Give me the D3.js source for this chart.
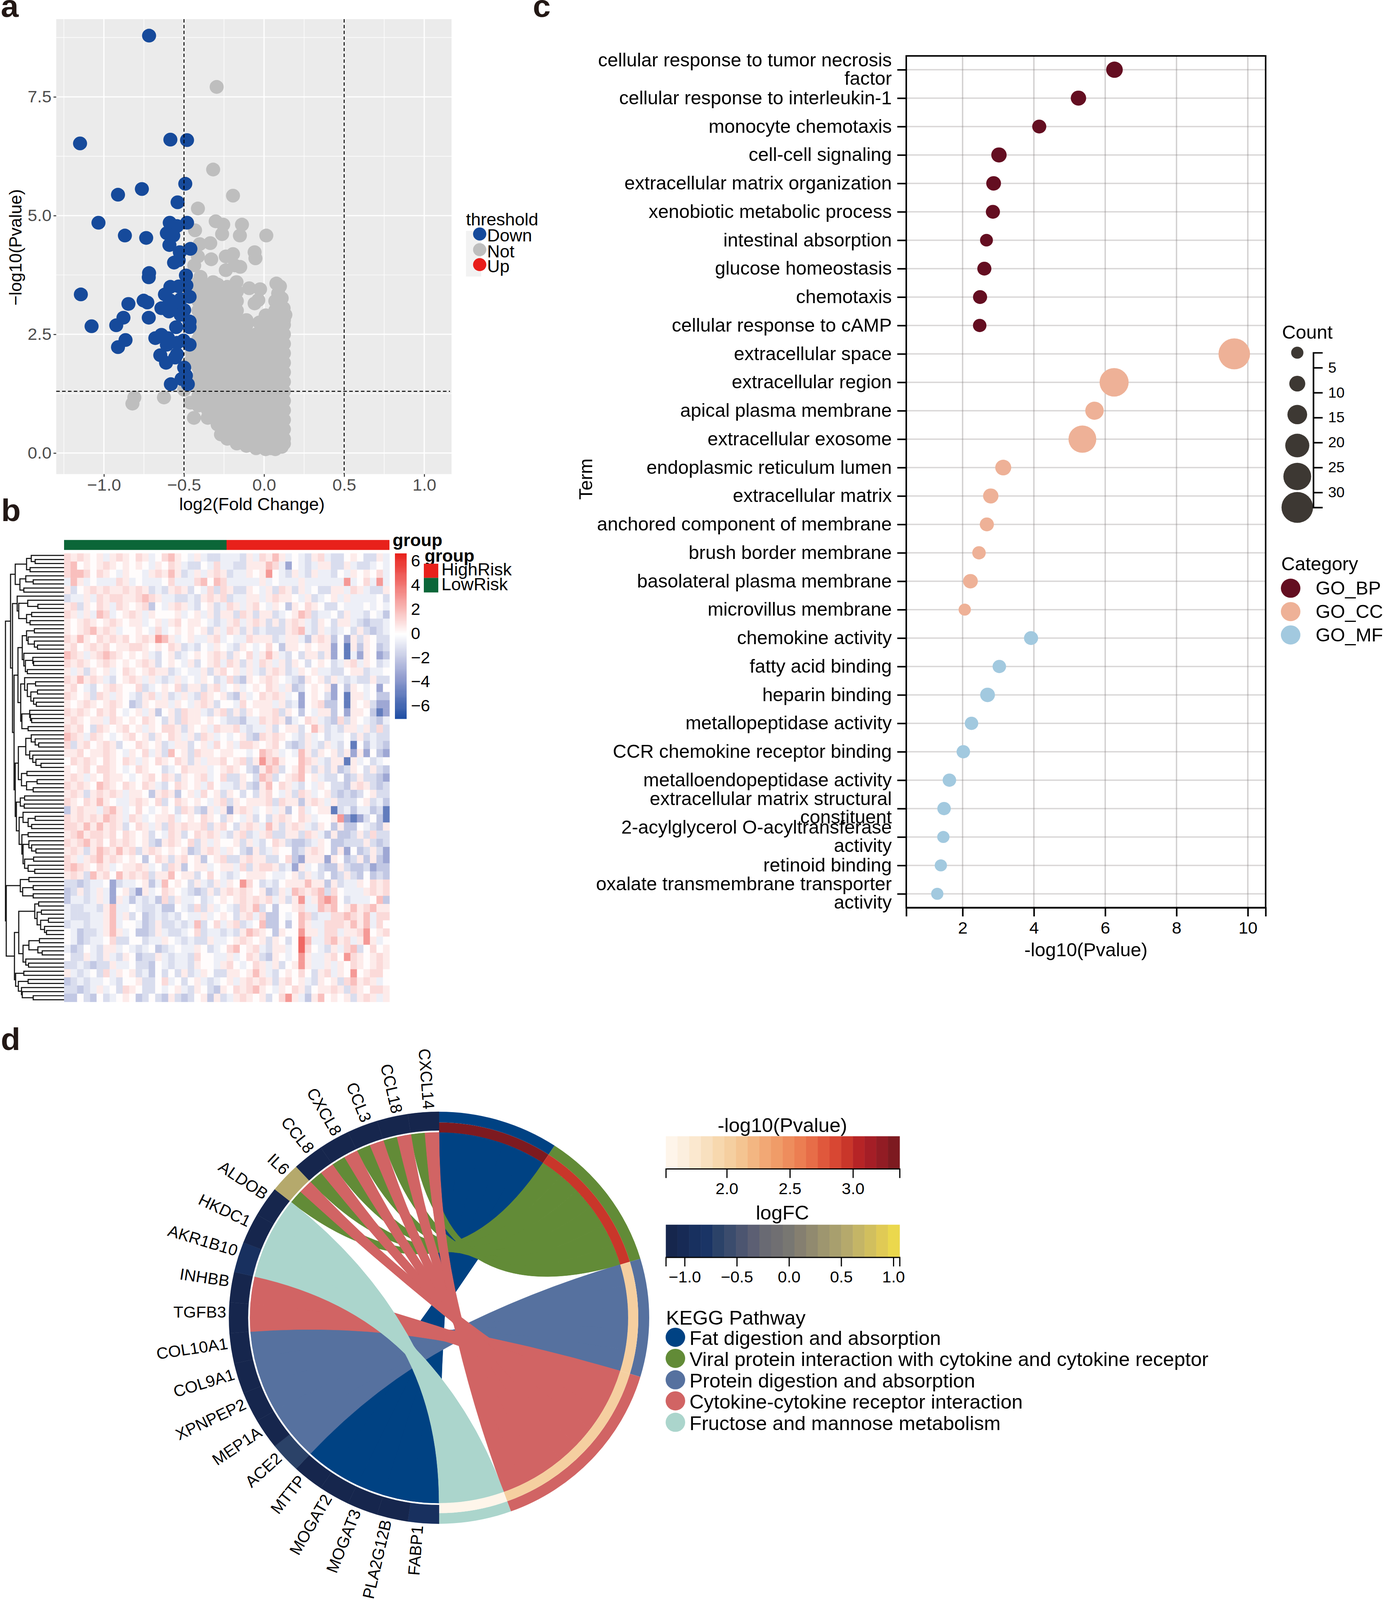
<!DOCTYPE html>
<html>
<head>
<meta charset="utf-8">
<script src="https://cdn.jsdelivr.net/npm/d3@7"></script>
<style>
  html, body { margin: 0; padding: 0; background: #fff; overflow: hidden; }
  svg { display: block; width: 100vw; height: 100vh; }
  text { font-family: "Liberation Sans", Arial, sans-serif; fill: #000; }
</style>
</head>
<body>
<div id="figure"></div>
<script>
/* DATA - panel a, volcano plot */
const downPoints = [[-0.718,8.79],[-1.149,6.52],[-0.585,6.6],[-0.481,6.59],[-0.492,5.67],[-0.763,5.56],[-0.912,5.44],[-0.54,5.28],[-1.034,4.85],[-0.589,4.85],[-0.481,4.85],[-0.544,4.78],[-0.869,4.58],[-0.736,4.53],[-0.607,4.63],[-0.567,4.58],[-0.591,4.38],[-0.526,4.23],[-0.46,4.3],[-0.562,4.01],[-0.533,4.06],[-0.488,3.74],[-0.718,3.79],[-0.72,3.7],[-0.485,3.53],[-0.585,3.5],[-0.533,3.51],[-1.144,3.34],[-0.619,3.34],[-0.752,3.21],[-0.729,3.17],[-0.847,3.14],[-0.465,3.29],[-0.521,3.24],[-0.589,3.22],[-0.641,3.05],[-0.594,2.98],[-0.544,3.12],[-0.499,3.01],[-0.878,2.85],[-0.72,2.85],[-0.521,2.91],[-0.923,2.69],[-1.077,2.67],[-0.465,2.77],[-0.465,2.65],[-0.549,2.65],[-0.679,2.42],[-0.641,2.49],[-0.6,2.42],[-0.865,2.38],[-0.912,2.23],[-0.607,2.28],[-0.544,2.32],[-0.503,2.37],[-0.465,2.28],[-0.648,2.06],[-0.544,2.08],[-0.612,1.9],[-0.555,2.01],[-0.499,1.8],[-0.488,1.63],[-0.476,1.45],[-0.582,1.45],[-0.515,1.56]];
const notOutliers = [[-0.296,7.71],[-0.318,5.97],[-0.194,5.42],[-0.413,5.15],[-0.431,4.69],[-0.302,4.88],[-0.255,4.81],[-0.262,4.61],[-0.138,4.81],[-0.151,4.58],[0.014,4.58],[-0.402,4.4],[-0.336,4.42],[-0.413,4.14],[-0.436,3.95],[-0.33,4.08],[-0.239,4.14],[-0.194,4.19],[-0.059,4.23],[-0.054,4.1],[-0.239,3.85],[-0.183,3.95],[-0.149,3.92],[-0.397,3.71],[-0.81,1.17],[-0.822,1.04],[-0.625,1.17],[-0.499,1.33],[-0.46,1.06],[-0.438,0.74],[-0.352,0.74],[-0.269,0.39],[-0.183,0.31],[-0.115,0.2],[0.043,0.1],[0.11,0.13],[0.077,3.57],[0.099,3.51],[0.088,3.36],[0.11,3.26],[-0.036,3.22],[-0.059,3.15],[0.122,3.05],[0.133,2.91],[-0.025,3.45],[-0.093,3.47],[-0.172,3.6],[-0.318,3.6],[-0.03,2.75],[-0.47,1.9],[-0.45,2.1]];
// the grey mass: stacks of overlapping "Not" points read off by column
const notColumns = [
  [-0.41, [1,1.2,1.4,1.6,1.8,2,2.2,2.4,2.6,2.8,3,3.2,3.4,3.6]],
  [-0.35, [0.9,1.1,1.3,1.5,1.7,1.9,2.1,2.3,2.5,2.7,2.9,3.1,3.3,3.5]],
  [-0.29, [0.6,0.8,1,1.2,1.4,1.6,1.8,2,2.2,2.4,2.6,2.8,3,3.2,3.4,3.55]],
  [-0.23, [0.3,0.5,0.7,0.9,1.1,1.3,1.5,1.7,1.9,2.1,2.3,2.5,2.7,2.9,3.1,3.3,3.5]],
  [-0.17, [0.2,0.4,0.6,0.8,1,1.2,1.4,1.6,1.8,2,2.2,2.4,2.6,2.8,3,3.2,3.4]],
  [-0.11, [0.15,0.3,0.5,0.7,0.9,1.1,1.3,1.5,1.7,1.9,2.1,2.3,2.5,2.7,2.8]],
  [-0.05, [0.1,0.2,0.4,0.6,0.8,1,1.2,1.4,1.6,1.8,2,2.2,2.4,2.5]],
  [0.01, [0.08,0.3,0.5,0.7,0.9,1.1,1.3,1.5,1.7,1.9,2.1,2.3,2.5,2.7,2.9]],
  [0.07, [0.08,0.2,0.4,0.6,0.8,1,1.2,1.4,1.6,1.8,2,2.2,2.4,2.6,2.8,3,3.2]],
  [0.124, [0.2,0.3,0.5,0.7,0.9,1.1,1.3,1.5,1.7,1.9,2.1,2.3,2.5,2.7,2.8]]
];
const thresholdNames = ["Down", "Not", "Up"];
const thresholdColors = ["#164a9b", "#bebebe", "#e81d1a"];

/* DATA - panel b, heatmap at half the source resolution (each cell is a local reading) */
const heatLevels = { a: -5, b: -3.2, c: -2, d: -1.25, e: -0.6, ".": 0.1, f: 0.6, g: 1.1, h: 1.9, i: 3, j: 4.5 };
const heatRows = [
  "gfgf. fefgf .gfe. ghf.e fedde eedfe gfhfe .edfg edd.f .ddfe",
  "gh.f. fgf.f .f.ef .gfed d.ege eddff fhgeb .edef fddfe dde.e",
  "ghhg. gf.ef ..efg fhfde fefgf deef. fi.ed fedfe ed.ef .f.ge",
  "ehfe. eeegf e.eee .geee gh.hg eeeee fe.ee efeee eeeie .geie",
  "fd.fg fgffg fgfde dfgfd .egdg fddf. efdgf dfe.d dffeg feddf",
  "deefe gfggf fghgf eedde dfgfg deeff efgff .efde .fefe eee.d",
  "fgdf. gfegf .fgc. efgfe d.fde gfefg .ef.c f.gf. dd.ee e.e.e",
  "gfefe hge.f gfef. ..fe. fefdf fdgfd ffde. fhgde e.dfe ed.ec",
  "f.fgf .fgf. ffe.f efg.f f.ede fgefg fdfdf gfedf .dffe dcdde",
  "f.fgh fgfe. .f.eg e.f.f .fdfe gfdfd edddf ghedf ede.d fdcde",
  "gfhf. gfgfg .fgfi hfe.f eefge .eegf ffdef fecfg fc.bf df.dd",
  "fg.fg fg.ff ggf.f .gfde d.ef. edf.e .g.cf f.f.f fb.af cf.cd",
  "hgfef ghgf. f.fed .fde. f.fgf df.ge fhfed .dffd fb.ae bf.bc",
  "gfgf. fgf.f .fgfd .f.ef d.fge gfdfe gfefd f.d.f .defg ef.de",
  "fefdf .fe.g f.fgf fde.e efdfg .fefe dfgfd ef.fe edd.f fdee.",
  "gfhfg fed.f gfefe defe. ef.de gdcf. fgf.e dcf.f dfede ddfdd",
  "fg.ed .fgf. .gde. f.gdf fdfge .fe.f .gfef cd.f. fb.cf .e.b.",
  "gf.fd gfef. edfge fdefe dgf.f dcfe. gfgfe .b.f. db.af fe.cc",
  "f.fgf .fgf. cdf.f fef.e fgfd. .eg.f ffefd eb.fg cc.af .fdbb",
  "gfgf. gfg.e .fefc .fdgf fedfg dfdf. ffgdf .c.ef fc.bf f.cab",
  "fgf.f fegf. f.gf. dfdgf f.f.e ddcee gfgfc e.gfe dcgdf .edce",
  "gfg.d gf.fg .fef. ggfdf .fegf fgede efd.f fd.hf dedff efdgd",
  "hgfeg f.e.f g.fdf .gfef dgfe. e.fdc gfgf. edfe. dee.d fdedd",
  "gdfg. fgfd. .gf.f deffd .feg. feggf .fg.d cdfed fed.a .cedc",
  "ffg.f fgf.e f.gef dh.fd gff.f f..e. hgfe. ehfdf .fdfb fb.cb",
  ".gfgf .gf.g fef.g f.gfd feffg .fgdf ighf. .hgfe dffaf e.de.",
  "f.fg. ggf.e .gf.. de.gf ffe.f gf.dc fhgd. fhfdf dfcdf .dfdc",
  "fgfef .gff. e.fg. gfdf. fge.g ddf.d hgd.f gh.fe dd.cd fddcb",
  "gfgf. hgf.g f.gfe d.gf. feg.e edfdc fh.gf ed.ef .ddcf gfdcd",
  "fgfdf gfgfe ff.cf gfc.f eg.fd f.d.d fg.ef dgfe. fdcdc d.fdd",
  "gf.gf hf.ee fgf.g d.gf. f.efg df.ff fgdgf fcfgf efddd .fdec",
  "cfgff eghfe .g.e. f.dgf dcfef bfgfe .fefc .ge.f fadec eecda",
  "gfgfg fhgfe gfe.f fge.f .gf.d f.efd .dfgf .gfe. .fiba bd.ca",
  "ggfhf hfgfd .gfef dgfgf fgdfg .dfgf ehfdf gfedf .cfcc .edcf",
  "fghfg gfg.g f.fd. egfd. gfgfe dfgde fgddf fdgfe cfccd fdgdd",
  "gfghf g.gfg f.fdc fgf.g dfef. .fdfe d.gfd ccdef .ccdd dfdcd",
  "fgfdf hgfhf gdfgf .f.fc dfgfe f.dcf def.. cdfgf .cfb. cdfdb",
  "gfefg hfgf. f.c.g fdfg. fc.fg ddfgf fdd.g cbfff bf.cd fcfcb",
  "ghgf. gfe.f fgfe. dgfc. ffe.f fegdf ggfde bfe.d ccfdc cdbcc",
  "fgfdh fg.hf gfgdf fh.ff d.g.e de.ff f.ee. fdfed .cdfd c.cdc",
  "ddcde e.bde e.fce h.f.d fedfe f.ig. ded.f ffhff cfdee f.gfg",
  "cdfde feb.f dbfe. gf.ed cdfdf gfgf. fcdfe hgfgh dg.ee efgfg",
  "ceede febfe cedec gdfee .de.f .fgfg fgefd fiefh ih.de ee.hc",
  "eddee dfhee .edde cc.ed gdfe. edgfh d.c.. fgeeh gh.fh fghff",
  "eddde efhef d.cde ded.e efe.f .dfge gcc.e .hgde egghg fhegg",
  "deede efhe. .ecdf ddede hd.ge fgde. hcc.c .hfee gggfh fheg.",
  ".ecdd efhfe .ccdf edde. gdeed edfhg f.cf. .iffe ggeff gi.fg",
  ".ecde e.gdd ..dee f.ede ddfee .fgf. fdf.d .jhee ghfge fife.",
  "ecd.e dffe. ede.c de.ee f.de. gh.fg edffe .jg.e dfegh d.g.f",
  ".ddfe dfedf .cddf edeed g..ee fe.gf dcf.e .ifee fg.ig f.fgf",
  "ddedc ddfee .ddc. edeed f..ef g.e.g fefd. fifee fef.g f.fgf",
  "fede. dgef. fdec. d.dfd ef.dd ff.fh fed.f .g.df gef.i .fgg.",
  "cdede e.ed. .fdd. ge.d. fede. fefgf gfdfg .fedf .fdgh fgfe.",
  "ddcde fe.dg f.dd. e.fed f.dcf .gfgh f.ef. gfd.f fgfdg f.ggf",
  "cc.dc .de.f .cd.d cfdcd .fcfd efgf. fd.gi fecfh .f.fd fgfef"
];
const heatColorStops = [-7, -3.5, 0, 3.3, 6.64];
const heatColors = ["#1e4da3", "#959fd0", "#ffffff", "#f48f8c", "#e8211b"];
const heatTicks = [6, 4, 2, 0, -2, -4, -6];
const groupNames = ["HighRisk", "LowRisk"];
const groupColors = ["#e8211b", "#0b6638"];
// row dendrogram: [merge position in px, child, child], 0 = leaf
const rowTree = [14,
  [27,
    [39,
      [68, [80, 0, [90, 0, 0]], [77, 0, 0]],
      [51, [66, 0, [85, 0, 0]], [61, 0, 0]]],
    [32,
      [44, 0, [48, [71, 0, [97, 0, 0]], [68, [81, 0, 0], [77, 0, 0]]]],
      [36,
        [46,
          [57, [68, [88, 0, 0], [72, 0, [88, 0, [96, 0, 0]]]],
               [61, 0, [65, [84, 0, [86, 0, 0]], [70, 0, 0]]]],
          [53, [63, 0, [70, [91, 0, 0], [79, [96, 0, 0], [86, 0, [93, 0, 0]]]]],
               [56, [76, 0, [78, 0, [81, 0, 0]]], [72, 0, 0]]]],
        [39,
          [47,
            [66, [80, 0, [90, 0, [99, 0, 0]]], [76, 0, [84, 0, [92, 0, [105, 0, 0]]]]],
            [55, [69, 0, 0], [68, [95, 0, 0], [85, 0, 0]]]],
          [42,
            [52, [63, 0, 0], [62, 0, 0]],
            [49,
              [59, 0, [72, [90, 0, 0], [81, 0, 0]]],
              [56, [72, 0, 0],
                [59, [74, 0, [81, 0, [92, 0, 0]]], [63, [86, 0, 0], [72, 0, [89, 0, 0]]]]]]]]]]],
  [16,
    [52, [74, 0, 0], [58, [85, 0, 0], [85, 0, 0]]],
    [37,
      [48,
        [89, [99, 0, 0], [95, [106, 0, 0], [104, [124, 0, 0], [114, 0, [119, 0, 0]]]]],
        [59, [74, [101, 0, 0], [97, 0, [108, 0, 0]]], [66, 0, [73, 0, 0]]]],
      [40, [61, 0, 0], [47, [72, 0, 0], [55, 0, [57, 0, [85, 0, 0]]]]]]]];

/* DATA - panel c, GO dot plot */
const terms = ["cellular response to tumor necrosis\nfactor", "cellular response to interleukin-1", "monocyte chemotaxis", "cell-cell signaling", "extracellular matrix organization", "xenobiotic metabolic process", "intestinal absorption", "glucose homeostasis", "chemotaxis", "cellular response to cAMP", "extracellular space", "extracellular region", "apical plasma membrane", "extracellular exosome", "endoplasmic reticulum lumen", "extracellular matrix", "anchored component of membrane", "brush border membrane", "basolateral plasma membrane", "microvillus membrane", "chemokine activity", "fatty acid binding", "heparin binding", "metallopeptidase activity", "CCR chemokine receptor binding", "metalloendopeptidase activity", "extracellular matrix structural\nconstituent", "2-acylglycerol O-acyltransferase\nactivity", "retinoid binding", "oxalate transmembrane transporter\nactivity"];
const termPvalues = [6.26, 5.25, 4.15, 3.02, 2.87, 2.85, 2.67, 2.61, 2.49, 2.48, 9.62, 6.25, 5.7, 5.36, 3.14, 2.79, 2.68, 2.46, 2.22, 2.06, 3.92, 3.03, 2.7, 2.25, 2.02, 1.63, 1.48, 1.46, 1.39, 1.29];
const termCounts = [9, 7, 5, 7, 6, 5, 3, 5, 5, 4, 33, 29, 12, 27, 8, 7, 5, 4, 6, 2, 5, 4, 6, 4, 4, 4, 4, 2, 2, 2];
const termCategories = [0, 0, 0, 0, 0, 0, 0, 0, 0, 0, 1, 1, 1, 1, 1, 1, 1, 1, 1, 1, 2, 2, 2, 2, 2, 2, 2, 2, 2, 2];
const categoryNames = ["GO_BP", "GO_CC", "GO_MF"];
const categoryColors = ["#640e21", "#eeb197", "#a2c9df"];
const countTicks = [5, 10, 15, 20, 25, 30];
const countKeys = [2, 8, 14, 21, 27, 33];

/* DATA - panel d, KEGG chord diagram */
const genes = ["FABP1", "PLA2G12B", "MOGAT3", "MOGAT2", "MTTP", "ACE2", "MEP1A", "XPNPEP2", "COL9A1", "COL10A1", "TGFB3", "INHBB", "AKR1B10", "HKDC1", "ALDOB", "IL6", "CCL8", "CXCL8", "CCL3", "CCL18", "CXCL14"];
const geneLogFC = [-0.9, -1.12, -1.12, -1.12, -1.12, -0.68, -1.12, -1.12, -1.12, -1.12, -1.12, -1.12, -0.9, -1.12, -1.12, 0.56, -1.12, -1.12, -1.12, -1.12, -1.12];
const genePathways = [[0], [0], [0], [0], [0], [2], [2], [2], [2], [2], [3], [3], [4], [4], [4], [1, 3], [1, 3], [1, 3], [1, 3], [1, 3], [1, 3]];
const pathways = ["Fat digestion and absorption", "Viral protein interaction with cytokine and cytokine receptor", "Protein digestion and absorption", "Cytokine-cytokine receptor interaction", "Fructose and mannose metabolism"];
const pathwayPvalues = [3.37, 2.95, 2, 2, 1.55];
const pathwayColors = ["#004283", "#628b37", "#56719f", "#d16464", "#abd5cc"];
const pvalueBarColors = ["#fef5ea", "#fcefde", "#fbe8cf", "#f8e0bf", "#f7d8ae", "#f5cfa0", "#f4c491", "#f3b682", "#f2a875", "#f09c68", "#ee8d5d", "#ec7e52", "#e76d48", "#e0583c", "#d84733", "#c9362a", "#b62426", "#a51e26", "#921c24", "#7d1a20"];
const logfcBarColors = ["#16264d", "#172a55", "#18305f", "#1a3465", "#2b4268", "#3b4c6d", "#4c5570", "#5c5f73", "#696a73", "#706f72", "#787772", "#857f70", "#918a6f", "#9e966f", "#a89f6e", "#b5a96c", "#c4b566", "#d1bf5e", "#e0ca55", "#ebd84d"];
const pvalueTicks = [2, 2.5, 3];
const logfcTicks = [-1, -0.5, 0, 0.5, 1];
const pvalueDomain = [1.517, 3.37];
const logfcDomain = [-1.18, 1.06];

const FONT_AXIS = 45;
const FONT_TERM = 48.5;
const FONT_LEGEND = 51;
const FONT_BAR = 42;

// the drawing is laid out in reference pixels and scaled to whatever the window offers
const svg = d3
  .select("#figure")
  .append("svg")
  .attr("viewBox", "0 0 3543 4178")
  .attr("preserveAspectRatio", "none");

/* HELPERS */
function addText(parent, x, y, str, size, opts = {}) {
  return parent
    .append("text")
    .attr("x", x)
    .attr("y", y)
    .attr("dy", "0.35em")
    .attr("font-size", size)
    .attr("font-weight", opts.bold ? "bold" : "normal")
    .attr("text-anchor", opts.anchor || "start")
    .style("fill", opts.fill || "#000")
    .text(str);
}

function panelLetter(str, x, baseline) {
  svg.append("text")
    .attr("x", x)
    .attr("y", baseline)
    .attr("font-size", 82)
    .attr("font-weight", "bold")
    .style("fill", "#231815")
    .text(str);
}

/* PANEL A */
function drawVolcano() {
  const x = d3.scaleLinear().domain([-1.2976, 1.1707]).range([144, 1156]);
  const y = d3.scaleLinear().domain([-0.444, 9.137]).range([1238, 50]);
  const g = svg.append("g");

  g.append("rect").attr("x", 144).attr("y", 50).attr("width", 1012).attr("height", 1188).attr("fill", "#ebebeb");

  // grid
  const minorX = [-1.25, -0.75, -0.25, 0.25, 0.75];
  const minorY = [1.25, 3.75, 6.25, 8.75];
  const majorX = [-1, -0.5, 0, 0.5, 1];
  const majorY = [0, 2.5, 5, 7.5];
  g.selectAll(".minx").data(minorX).enter().append("line").attr("x1", x).attr("x2", x).attr("y1", 50).attr("y2", 1238).attr("stroke", "#fff").attr("stroke-width", 1.5);
  g.selectAll(".miny").data(minorY).enter().append("line").attr("y1", y).attr("y2", y).attr("x1", 144).attr("x2", 1156).attr("stroke", "#fff").attr("stroke-width", 1.5);
  g.selectAll(".majx").data(majorX).enter().append("line").attr("x1", x).attr("x2", x).attr("y1", 50).attr("y2", 1238).attr("stroke", "#fff").attr("stroke-width", 3);
  g.selectAll(".majy").data(majorY).enter().append("line").attr("y1", y).attr("y2", y).attr("x1", 144).attr("x2", 1156).attr("stroke", "#fff").attr("stroke-width", 3);

  // points
  const notPoints = notOutliers.concat(notColumns.flatMap(([cx, ys]) => ys.map((v) => [cx, v])));
  g.append("g").selectAll("circle").data(notPoints).enter().append("circle")
    .attr("cx", (d) => x(d[0])).attr("cy", (d) => y(d[1])).attr("r", 18).attr("fill", thresholdColors[1]);
  g.append("g").selectAll("circle").data(downPoints).enter().append("circle")
    .attr("cx", (d) => x(d[0])).attr("cy", (d) => y(d[1])).attr("r", 18).attr("fill", thresholdColors[0]);

  // threshold lines
  [-0.5, 0.5].forEach((v) => {
    g.append("line").attr("x1", x(v)).attr("x2", x(v)).attr("y1", 50).attr("y2", 1238).attr("stroke", "#000").attr("stroke-width", 2.5).attr("stroke-dasharray", "9 6");
  });
  g.append("line").attr("x1", 144).attr("x2", 1152).attr("y1", y(1.3)).attr("y2", y(1.3)).attr("stroke", "#000").attr("stroke-width", 2.5).attr("stroke-dasharray", "9 6");

  // axes
  const xAxis = g.append("g").attr("transform", "translate(0,1238)")
    .call(d3.axisBottom(x).tickValues(majorX).tickFormat(d3.format(".1f")).tickSize(7).tickPadding(5));
  const yAxis = g.append("g").attr("transform", "translate(144,0)")
    .call(d3.axisLeft(y).tickValues(majorY).tickFormat(d3.format(".1f")).tickSize(7).tickPadding(5));
  [xAxis, yAxis].forEach((a) => {
    a.select(".domain").remove();
    a.selectAll("line").attr("stroke", "#333").attr("stroke-width", 2.5);
    a.selectAll("text").attr("font-size", 44).style("fill", "#4d4d4d");
  });

  addText(g, 645, 1316, "log2(Fold Change)", FONT_AXIS, { anchor: "middle" });
  addText(g, 0, 0, "−log10(Pvalue)", FONT_AXIS, { anchor: "middle" })
    .attr("transform", "translate(39,646) rotate(-90)");

  // legend
  addText(g, 1193, 573, "threshold", FONT_AXIS);
  g.append("rect").attr("x", 1193).attr("y", 603).attr("width", 39).attr("height", 119).attr("fill", "#f2f2f2");
  const keyY = [611, 652, 691];
  thresholdNames.forEach((name, i) => {
    g.append("circle").attr("cx", 1228).attr("cy", keyY[i]).attr("r", 17).attr("fill", thresholdColors[i]);
    addText(g, 1247, keyY[i] + 4, name, FONT_AXIS);
  });
}

/* PANEL B */
function drawHeatmap() {
  const g = svg.append("g");
  const rows = heatRows.map((r) => r.replace(/ /g, "").split(""));
  const x = d3.scaleBand().domain(d3.range(rows[0].length)).range([164, 997]);
  const y = d3.scaleBand().domain(d3.range(rows.length)).range([1445, 2616]);
  const color = d3.scaleLinear().domain(heatColorStops).range(heatColors);

  // cells
  g.selectAll("g.row").data(rows).enter().append("g").attr("class", "row")
    .attr("transform", (d, i) => `translate(0,${y(i)})`)
    .selectAll("rect").data((d) => d).enter().append("rect")
    .attr("x", (d, i) => x(i))
    .attr("width", x.bandwidth() + 0.5)
    .attr("height", y.bandwidth() + 0.5)
    .attr("fill", (d) => color(heatLevels[d]));

  // annotation bar
  g.append("rect").attr("x", 164).attr("y", 1410).attr("width", 416).attr("height", 26).attr("fill", groupColors[1]);
  g.append("rect").attr("x", 580).attr("y", 1410).attr("width", 417).attr("height", 26).attr("fill", groupColors[0]);
  addText(g, 1005, 1410, "group", FONT_AXIS, { bold: true });

  // dendrogram
  const root = d3.hierarchy(rowTree, (d) => (Array.isArray(d) ? d.slice(1) : null));
  const leaves = root.leaves();
  const leafY = d3.scaleBand().domain(d3.range(leaves.length)).range([1445, 2616]);
  leaves.forEach((n, i) => { n.py = leafY(i) + leafY.bandwidth() / 2; n.px = 164; });
  root.eachAfter((n) => {
    if (n.children) {
      n.py = d3.mean(n.children, (c) => c.py);
      n.px = n.data[0];
    }
  });
  const tree = d3.path();
  root.descendants().forEach((n) => {
    if (n.children) {
      n.children.forEach((c) => {
        tree.moveTo(n.px, n.py);
        tree.lineTo(n.px, c.py);
        tree.lineTo(c.px, c.py);
      });
    }
  });
  g.append("path").attr("d", tree.toString()).attr("fill", "none").attr("stroke", "#111").attr("stroke-width", 2.8);

  // colour bar
  const barY = d3.scaleLinear().domain([6.64, -7]).range([1445, 1875]);
  const steps = d3.range(6.64, -7, -0.1);
  g.selectAll("rect.bar").data(steps).enter().append("rect").attr("class", "bar")
    .attr("x", 1011).attr("width", 30)
    .attr("y", (d) => barY(d)).attr("height", barY(0) - barY(0.1) + 0.5)
    .attr("fill", (d) => color(d));
  const barAxis = g.append("g").attr("transform", "translate(1041,0)")
    .call(d3.axisRight(barY).tickValues(heatTicks).tickSize(0).tickPadding(11));
  barAxis.select(".domain").remove();
  barAxis.selectAll("text").attr("font-size", 43);

  // group legend
  addText(g, 1087, 1451, "group", FONT_AXIS, { bold: true });
  const keyTop = [1472, 1509];
  const keyH = [37, 38];
  const labelY = [1487, 1525];
  groupNames.forEach((name, i) => {
    g.append("rect").attr("x", 1085).attr("y", keyTop[i]).attr("width", 37).attr("height", keyH[i]).attr("fill", groupColors[i]);
    addText(g, 1130, labelY[i], name, FONT_AXIS);
  });
}

/* PANEL C */
function drawDotPlot() {
  const g = svg.append("g");
  const x = d3.scaleLinear().domain([0.42, 10.5]).range([2320, 3240]);
  const y = d3.scalePoint().domain(terms).range([182, 2334]);
  const r = d3.scaleLinear().domain([2, 33]).range([15.7, 40.4]);
  const tickX = [2, 4, 6, 8, 10];

  // grid
  g.selectAll(".gx").data(tickX).enter().append("line").attr("x1", x).attr("x2", x).attr("y1", 146).attr("y2", 2370).attr("stroke", "#8a8484").attr("stroke-opacity", 0.38).attr("stroke-width", 3.5);
  g.selectAll(".gy").data(terms).enter().append("line").attr("y1", y).attr("y2", y).attr("x1", 2320).attr("x2", 3240).attr("stroke", "#8a8484").attr("stroke-opacity", 0.32).attr("stroke-width", 3.5);

  // dots
  g.selectAll("circle").data(terms).enter().append("circle")
    .attr("cx", (d, i) => x(termPvalues[i]))
    .attr("cy", (d) => y(d))
    .attr("r", (d, i) => r(termCounts[i]))
    .attr("fill", (d, i) => categoryColors[termCategories[i]]);

  // frame and axes
  g.append("rect").attr("x", 2320).attr("y", 146).attr("width", 920).attr("height", 2224).attr("fill", "none").attr("stroke", "#000").attr("stroke-width", 4);

  const xAxis = g.append("g").attr("transform", "translate(0,2370)")
    .call(d3.axisBottom(x).tickValues(tickX).tickFormat(d3.format("d")).tickSize(23).tickPadding(14));
  xAxis.selectAll("line").attr("stroke-width", 4);
  xAxis.select(".domain").attr("stroke-width", 4);
  xAxis.selectAll("text").attr("font-size", 44);

  const yAxis = g.append("g").attr("transform", "translate(2320,0)")
    .call(d3.axisLeft(y).tickSizeOuter(0).tickSize(23).tickFormat(""));
  yAxis.select(".domain").remove();
  yAxis.selectAll("line").attr("stroke-width", 4);

  // term labels, the long ones wrap on two lines
  terms.forEach((term) => {
    const lines = term.split("\n");
    lines.forEach((line, j) => {
      const offset = lines.length === 1 ? -1 : (j === 0 ? -26 : 22);
      addText(g, 2283, y(term) + offset, line, FONT_TERM, { anchor: "end" });
    });
  });

  addText(g, 2780, 2480, "-log10(Pvalue)", FONT_TERM, { anchor: "middle" });
  addText(g, 0, 0, "Term", FONT_TERM, { anchor: "middle" }).attr("transform", "translate(1499,1251) rotate(-90)");

  // count legend
  addText(g, 3282, 867, "Count", FONT_TERM);
  const countY = d3.scaleLinear().domain([2, 33]).range([921, 1325]);
  const keyY = d3.scalePoint().domain(countKeys).range([921, 1325]);
  g.selectAll("circle.key").data(countKeys).enter().append("circle").attr("class", "key")
    .attr("cx", 3321).attr("cy", (d) => keyY(d)).attr("r", (d) => r(d)).attr("fill", "#3d3833");
  const countAxis = g.append("g").attr("transform", "translate(3362,0)")
    .call(d3.axisRight(countY).tickValues(countTicks).tickSize(24).tickPadding(14));
  countAxis.selectAll("line").attr("stroke-width", 4);
  countAxis.select(".domain").attr("stroke-width", 4);
  countAxis.selectAll("text").attr("font-size", 38);

  // category legend
  addText(g, 3280, 1472, "Category", FONT_TERM);
  const catY = [1536, 1597, 1658];
  categoryNames.forEach((name, i) => {
    g.append("circle").attr("cx", 3304).attr("cy", catY[i]).attr("r", 25).attr("fill", categoryColors[i]);
    addText(g, 3368, catY[i], name, FONT_TERM);
  });
}

/* PANEL D */
function drawChord() {
  const cx = 1124;
  const cy = 3441;
  const g = svg.append("g").attr("transform", `translate(${cx},${cy})`);
  const rChord = 484;
  const rRingIn = 489;
  const rMid = 510;
  const rOuter = 538;

  const pvalueColor = d3.scaleQuantize().domain(pvalueDomain).range(pvalueBarColors);
  const logfcColor = d3.scaleQuantize().domain(logfcDomain).range(logfcBarColors);
  const arc = d3.arc();
  const ribbon = d3.ribbon().radius(rChord);

  // left half: one slot per gene, split between its links
  const geneStep = Math.PI / genes.length;
  const links = [];
  genes.forEach((gene, i) => {
    const start = Math.PI + i * geneStep;
    genePathways[i].forEach((p, j) => {
      const w = geneStep / genePathways[i].length;
      links.push({ pathway: p, b0: start + j * w, b1: start + (j + 1) * w });
    });
  });

  // right half: one slot per link, grouped by pathway
  const linkStep = Math.PI / links.length;
  let angle = 0;
  const sectors = pathways.map((name, p) => {
    const own = links.filter((l) => l.pathway === p);
    const start = angle;
    own.forEach((l) => {
      l.a0 = angle;
      l.a1 = angle + linkStep;
      angle += linkStep;
    });
    return { p, start, end: angle };
  });

  // ribbons
  pathways.forEach((name, p) => {
    links.filter((l) => l.pathway === p).forEach((l) => {
      g.append("path")
        .attr("d", ribbon({
          source: { startAngle: l.a0, endAngle: l.a1 },
          target: { startAngle: l.b0, endAngle: l.b1 }
        }))
        .attr("fill", pathwayColors[p])
        .attr("stroke", pathwayColors[p])
        .attr("stroke-width", 1);
    });
  });

  // rings
  sectors.forEach((s) => {
    g.append("path").attr("fill", pathwayColors[s.p])
      .attr("d", arc({ innerRadius: rMid, outerRadius: rOuter, startAngle: s.start, endAngle: s.end }));
    g.append("path").attr("fill", pvalueColor(pathwayPvalues[s.p]))
      .attr("d", arc({ innerRadius: rChord, outerRadius: rMid, startAngle: s.start, endAngle: s.end }));
  });
  genes.forEach((gene, i) => {
    const start = Math.PI + i * geneStep;
    g.append("path").attr("fill", logfcColor(geneLogFC[i])).attr("stroke", logfcColor(geneLogFC[i])).attr("stroke-width", 0.5)
      .attr("d", arc({ innerRadius: rRingIn, outerRadius: rOuter, startAngle: start, endAngle: start + geneStep }));
    const mid = start + geneStep / 2;
    const deg = (mid * 180) / Math.PI;
    g.append("text")
      .attr("transform", `translate(${545 * Math.sin(mid)},${-545 * Math.cos(mid)}) rotate(${deg + 90})`)
      .attr("text-anchor", "end")
      .attr("font-size", 42)
      .text(gene);
  });

  // colour bars
  const legend = svg.append("g");
  drawBar(legend, "-log10(Pvalue)", 2938, 2967, pvalueDomain, pvalueBarColors, pvalueTicks);
  drawBar(legend, "logFC", 3167, 3198, logfcDomain, logfcBarColors, logfcTicks);

  // pathway legend
  addText(legend, 1705, 3441, "KEGG Pathway", FONT_LEGEND);
  const keyY = [3492, 3547, 3603, 3658, 3714];
  pathways.forEach((name, i) => {
    legend.append("circle").attr("cx", 1729).attr("cy", keyY[i]).attr("r", 25).attr("fill", pathwayColors[i]);
    addText(legend, 1765, keyY[i] + 2, name, FONT_LEGEND);
  });
}

function drawBar(parent, title, titleY, top, domain, colors, ticks) {
  const x = d3.scaleLinear().domain(domain).range([1704.5, 2303]);
  const band = d3.scaleBand().domain(d3.range(colors.length)).range([1704.5, 2303]);
  addText(parent, 2003, titleY, title, FONT_LEGEND, { anchor: "middle" });
  parent.append("g").selectAll("rect").data(colors).enter().append("rect")
    .attr("x", (d, i) => band(i)).attr("y", top)
    .attr("width", band.bandwidth() + 0.5).attr("height", 85)
    .attr("fill", (d) => d);
  const axis = parent.append("g").attr("transform", `translate(0,${top + 85})`)
    .call(d3.axisBottom(x).tickValues(ticks).tickFormat(d3.format(".1f")).tickSize(24).tickPadding(12));
  axis.selectAll("line").attr("stroke-width", 3);
  axis.select(".domain").attr("stroke-width", 3);
  axis.selectAll("text").attr("font-size", FONT_BAR);
}

/* MAIN */
drawVolcano();
drawHeatmap();
drawDotPlot();
drawChord();
panelLetter("a", 2, 44);
panelLetter("b", 3, 1361);
panelLetter("c", 1364, 44);
panelLetter("d", 2, 2742);
</script>
</body>
</html>
